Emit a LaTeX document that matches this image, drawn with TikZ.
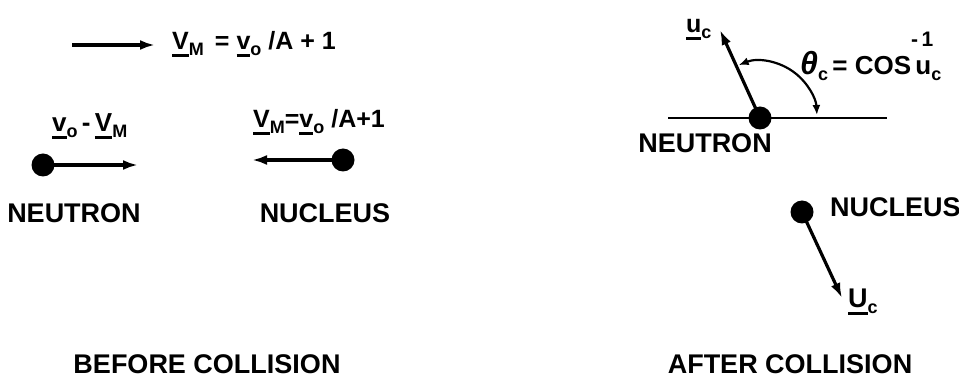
\documentclass[tikz,border=0pt]{standalone}
\usepackage{fontspec}
\setmainfont{Liberation Sans}
\usetikzlibrary{arrows.meta}
\newcommand\ulv[1]{\setbox0\hbox{#1}\rlap{\raisebox{-7pt}{\rule{\wd0}{2.8pt}}}\box0}
\newcommand\sbs[1]{\raisebox{-6pt}{\fontsize{18}{18}\selectfont #1}}
\tikzset{
  dot/.style={circle,fill=black,inner sep=0pt,minimum size=23pt},
  vec/.style={line width=3.2pt,-{Latex[length=15pt,width=10pt]}},
  caption/.style={font=\fontsize{27}{27}\selectfont\bfseries,inner sep=0pt},
  formula/.style={font=\fontsize{25}{25}\selectfont\bfseries,inner sep=0pt},
}
\begin{document}
\begin{tikzpicture}[x=1pt,y=1pt]
\useasboundingbox (0,0) rectangle (959,383);
% ---- before collision ----
\coordinate (ta) at (72,338);
\coordinate (tb) at (155,338);
\draw[vec] (ta) -- (tb);
\node[formula,anchor=base west] (topf) at (172,333)
  {\ulv{V}\sbs{M}\, = \ulv{v}\sbs{o} /A + 1};
\node[dot] (n1) at (43,218) {};
\coordinate (n1e) at (138,218);
\draw[vec] (n1.center) -- (n1e);
\node[formula,anchor=base west,font=\fontsize{26}{26}\selectfont\bfseries] (n1l) at (52,251)
  {\ulv{v}\sbs{o}\,-\,\ulv{V}\sbs{M}};
\node[dot] (m1) at (343,223) {};
\coordinate (m1e) at (252,223);
\draw[vec] (m1.center) -- (m1e);
\node[formula,anchor=base west] (m1l) at (253,255) {\ulv{V}\sbs{M}=\ulv{v}\sbs{o} /A+1};
\node[caption] (neutA) at (74,170) {NEUTRON};
\node[caption] (nucA) at (325,170) {NUCLEUS};
\node[caption] (before) at (207,19) {BEFORE COLLISION};
% ---- after collision ----
\coordinate (la) at (668,265);
\coordinate (lb) at (887,265);
\draw[line width=2.4pt] (la) -- (lb);
\node[dot] (n2) at (760,265) {};
\coordinate (n2e) at (720,353);
\draw[vec] (n2.center) -- (n2e);
\draw[line width=2.2pt,{Latex[length=10pt,width=8pt]}-{Latex[length=10pt,width=8pt]}]
  ([shift={(112:57)}]n2.center) arc[start angle=112,end angle=3,radius=57];
\node[formula,anchor=base west] (ucl) at (686,350) {\ulv{u}\sbs{c}};
\node[formula,anchor=base west,font=\fontsize{26}{26}\selectfont\bfseries] (theta) at (800,308)
  {{\fontsize{32}{32}\selectfont\itshape θ}\sbs{c}\,= COS\rlap{\raisebox{28pt}{\fontsize{21}{21}\selectfont -\,1}}\,u\sbs{c}};
\node[caption] (neutB) at (705,240) {NEUTRON};
\node[dot] (n3) at (802,171) {};
\coordinate (n3e) at (842,85);
\draw[vec] (n3.center) -- (n3e);
\node[caption,anchor=west] (nucB) at (830,176) {NUCLEUS};
\node[formula,anchor=base west,font=\fontsize{27}{27}\selectfont\bfseries] (Ucl) at (848,75) {\ulv{U}\sbs{c}};
\node[caption] (after) at (790,19) {AFTER COLLISION};
\end{tikzpicture}
\end{document}
